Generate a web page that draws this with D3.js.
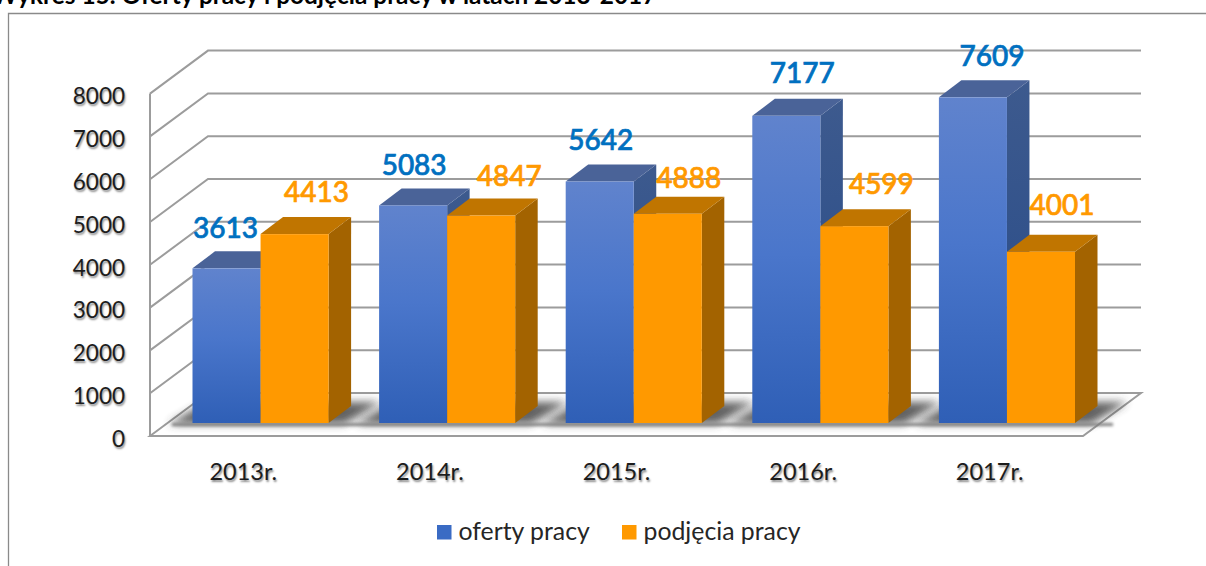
<!DOCTYPE html>
<html><head><meta charset="utf-8">
<script src="https://cdnjs.cloudflare.com/ajax/libs/d3/7.8.5/d3.min.js"></script>
<style>
html,body{margin:0;padding:0;background:#fff;overflow:hidden}
svg{display:block}
text{font-family:Lato,"Noto Sans",sans-serif}
.ax text{fill:#1c1c1c;text-shadow:1px 2px 2px rgba(0,0,0,.45)}
</style></head><body>
<svg id="c" width="1206" height="566"></svg>
<script>
const categories=["2013r.","2014r.","2015r.","2016r.","2017r."];
const seriesNames=["oferty pracy","podjęcia pracy"];
const oferty=[3613,5083,5642,7177,7609];
const podjecia=[4413,4847,4888,4599,4001];
const yTicks=[0,1000,2000,3000,4000,5000,6000,7000,8000];
const titleText="Wykres 15. Oferty pracy i podjęcia pracy w latach 2013-2017";
// manual label placement of the original chart: [dx from bar centre, gap above back top edge]
const ofertyLabelNudge=[[-1,13],[1,13],[1,14.5],[16,16],[19,14]];
const podjeciaLabelNudge=[[22,15],[28,13],[21,9],[27,15],[21,20]];

const svg=d3.select("#c");
const defs=svg.append("defs");
const blueGrad=defs.append("linearGradient").attr("id","bf").attr("x1",0).attr("x2",0).attr("y1",0).attr("y2",1);
blueGrad.append("stop").attr("offset",0).attr("stop-color","#6083cd");
blueGrad.append("stop").attr("offset",.45).attr("stop-color","#4a76cb");
blueGrad.append("stop").attr("offset",1).attr("stop-color","#2f5fb6");
const sideGrad=defs.append("linearGradient").attr("id","bs").attr("x1",0).attr("x2",0).attr("y1",0).attr("y2",1);
sideGrad.append("stop").attr("offset",0).attr("stop-color","#3d5a8e");
sideGrad.append("stop").attr("offset",1).attr("stop-color","#264a88");
defs.append("filter").attr("id","sh").attr("x","-10%").attr("y","-60%").attr("width","120%").attr("height","220%")
  .append("feGaussianBlur").attr("stdDeviation",4.5);
defs.append("filter").attr("id","sh2").attr("filterUnits","userSpaceOnUse").attr("x",100).attr("y",400).attr("width",1050).attr("height",50)
  .append("feGaussianBlur").attr("stdDeviation",1.8);

const L=150,R=1083,Y0=436,Y8=93.6;     // front plane
const DX=58,DY=-43;                    // floor depth
const BX=22.5,BY=-17,BASE=-13;         // bar depth, bar inset from front edge
const x=d3.scaleBand().domain(categories).range([L,R]);
const x1=d3.scaleBand().domain(seriesNames).range([42.5,178.6]);
const y=d3.scaleLinear().domain([0,8000]).range([Y0,Y8]);
const poly=p=>p.map(q=>q.join(",")).join(" ");

// frame
svg.append("path").attr("d","M1210,13.5H8.5V570").attr("fill","none").attr("stroke","#8a8a8a").attr("stroke-width",1.3);
// title
svg.append("text").attr("x",-8).attr("y",4).attr("font-size",24.4).attr("font-weight",700).attr("fill","#000").text(titleText);

// wall grid
const gridColor="#9c9c9c";
const grid=svg.append("g").attr("fill","none").attr("stroke",gridColor).attr("stroke-width",2);
grid.selectAll("polyline").data(yTicks.slice(1)).join("polyline")
  .attr("points",d=>poly([[L,y(d)],[L+DX,y(d)+DY],[R+DX,y(d)+DY]]));
// floor
grid.append("polygon").attr("fill","#fff").attr("points",poly([[L,Y0],[L+DX,Y0+DY],[R+DX,Y0+DY],[R,Y0]]));
grid.append("line").attr("x1",L).attr("x2",L).attr("y1",Y8).attr("y2",Y0);

// floor shadows
const gridBars=svg.append("g");
categories.forEach(c=>{
  const a=x(c)+x1(seriesNames[0]),b=x(c)+x1(seriesNames[1])+x1.bandwidth(),yb=Y0+BASE;
  gridBars.append("polygon").attr("filter","url(#sh)").attr("fill","#3a3a3a").attr("opacity",.8)
    .attr("points",poly([[a-24,yb+1],[a+BX-8,yb+BY-4],[b+BX+30,yb+BY-4],[b+16,yb+1]]));
});
gridBars.append("rect").attr("filter","url(#sh2)").attr("fill","#808080")
  .attr("x",L+22).attr("y",Y0+BASE).attr("width",R-L+8).attr("height",3);

// bars
const seriesData=[oferty,podjecia];
const look=[{front:"url(#bf)",side:"url(#bs)",top:"#4a6398"},{front:"#ff9900",side:"#a36300",top:"#c07500"}];
categories.forEach((c,i)=>{
  seriesNames.forEach((s,k)=>{
    const v=seriesData[k][i],x0=x(c)+x1(s),x2=x0+x1.bandwidth(),yb=y(0)+BASE,yt=y(v)+BASE;
    const g=svg.append("g");
    g.append("polygon").attr("fill",look[k].side).attr("points",poly([[x2,yt],[x2+BX,yt+BY],[x2+BX,yb+BY],[x2,yb]]));
    g.append("polygon").attr("fill",look[k].top).attr("points",poly([[x0,yt],[x0+BX,yt+BY],[x2+BX,yt+BY],[x2,yt]]));
    g.append("rect").attr("x",x0).attr("y",yt).attr("width",x2-x0).attr("height",yb-yt).attr("fill",look[k].front);
  });
});

// axes (text only: the wall lines are the ticks)
const ax=d3.axisLeft(y).tickValues(yTicks).tickSize(0).tickPadding(0).tickFormat(d3.format("d"));
const gy=svg.append("g").attr("class","ax").attr("transform","translate(125,0)").call(ax);
gy.select(".domain").remove();
gy.selectAll("text").attr("font-size",22.5).attr("dy",null).attr("y",10.2).attr("x",0).attr("font-family",null);
const bx=d3.axisBottom(x).tickSize(0).tickPadding(0);
const gx=svg.append("g").attr("class","ax").attr("transform","translate(0,480)").call(bx);
gx.select(".domain").remove();
gx.selectAll("text").attr("font-size",23.5).attr("dy",null).attr("y",0).attr("font-family",null);

// value labels
const labelColors=["#0070c0","#ff9900"];
const nudges=[ofertyLabelNudge,podjeciaLabelNudge];
seriesNames.forEach((s,k)=>{
  svg.append("g").selectAll("text").data(seriesData[k]).join("text")
    .attr("text-anchor","middle").attr("font-size",28).attr("font-weight",500).attr("fill",labelColors[k])
    .attr("stroke",labelColors[k]).attr("stroke-width",.7)
    .attr("x",(d,i)=>x(categories[i])+x1(s)+x1.bandwidth()/2+nudges[k][i][0])
    .attr("y",(d,i)=>y(d)+BASE+BY-nudges[k][i][1])
    .text(d=>d);
});

// legend
const legendX=[437,622],legendSwatch=["#3a6bc4","#ff9900"];
const lg=svg.append("g").selectAll("g").data(seriesNames).join("g").attr("transform",(d,i)=>`translate(${legendX[i]},0)`);
lg.append("rect").attr("y",525).attr("width",14.5).attr("height",14.5).attr("fill",(d,i)=>legendSwatch[i]);
lg.append("text").attr("x",21.5).attr("y",540).attr("font-size",24.8).attr("fill","#262626").text(d=>d);
</script></body></html>
